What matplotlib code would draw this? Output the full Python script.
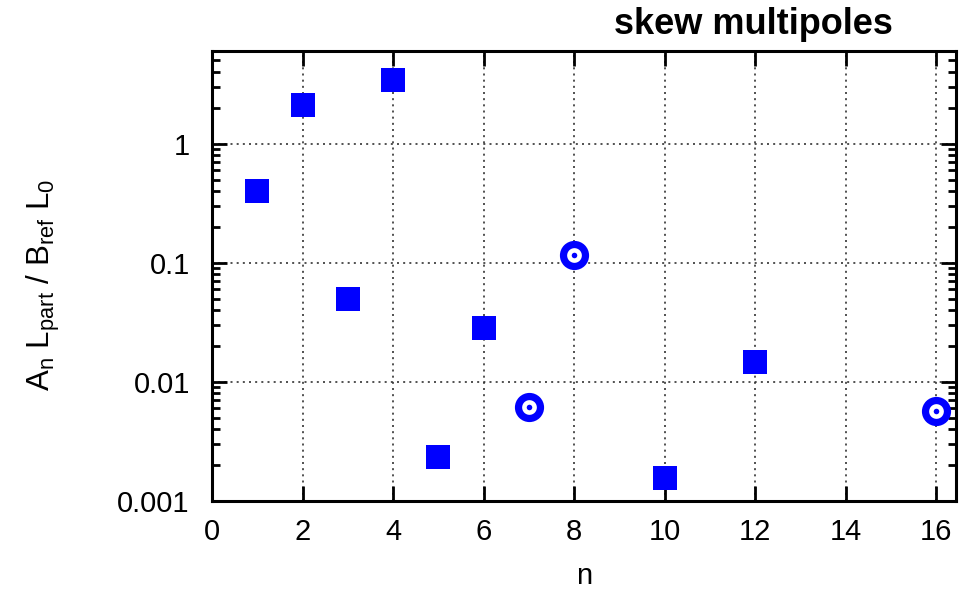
import matplotlib
matplotlib.use("Agg")
import matplotlib.pyplot as plt
from matplotlib.ticker import LogLocator, FixedLocator, NullFormatter

plt.rcParams['font.family'] = ['Liberation Sans', 'DejaVu Sans']
plt.rcParams['mathtext.fontset'] = 'custom'
plt.rcParams['mathtext.rm'] = 'Liberation Sans'
plt.rcParams['mathtext.it'] = 'Liberation Sans'

# skew multipole components, measured (squares) and upper limits (circles)
n_meas = [1, 2, 3, 4, 5, 6, 10, 12]
a_meas = [0.40, 2.12, 0.050, 3.43, 0.00236, 0.0283, 0.00157, 0.0147]
n_lim = [7, 8, 16]
a_lim = [0.0062, 0.116, 0.0057]

blue = "#0000ff"

fig = plt.figure(figsize=(9.77, 5.96), dpi=100)
ax = fig.add_axes([212 / 977, 1 - 501 / 596, (956 - 212) / 977, (501 - 51) / 596])

ax.set_yscale("log")
ax.set_xlim(0, 16.44)
ax.set_ylim(0.001, 6)

ax.plot(n_meas, a_meas, linestyle="none", marker="s", markersize=17.3,
        color=blue, markeredgewidth=0, zorder=3)
ax.plot(n_lim, a_lim, linestyle="none", marker="o", markersize=15.8,
        markerfacecolor="white", markeredgecolor=blue, markeredgewidth=5.2, zorder=3)
ax.plot(n_lim, a_lim, linestyle="none", marker="o", markersize=4,
        color=blue, markeredgewidth=0, zorder=4)

ax.xaxis.set_major_locator(FixedLocator(range(0, 17, 2)))
ax.yaxis.set_major_locator(FixedLocator([0.001, 0.01, 0.1, 1]))
ax.yaxis.set_minor_locator(LogLocator(base=10, subs=range(2, 10), numticks=20))
ax.yaxis.set_minor_formatter(NullFormatter())
ax.set_yticklabels(["0.001", "0.01", "0.1", "1"])

ax.grid(True, which="major", linestyle=(0, (1.2, 2.5)), color="#333333", linewidth=1.2)
ax.tick_params(which="major", direction="in", length=11, width=2, top=True, right=True,
               labelsize=21)
ax.tick_params(axis="x", which="major", pad=12)
ax.tick_params(axis="y", which="major", pad=16)
ax.tick_params(which="minor", direction="in", length=5.5, width=2, top=True, right=True)
ax.tick_params(axis="x", which="minor", top=False, bottom=False)
for s in ax.spines.values():
    s.set_linewidth(2.2)

ax.set_xlabel("n", fontsize=21, labelpad=12)
ax.set_ylabel(r"A$_\mathrm{n}$ L$_\mathrm{part}$ / B$_\mathrm{ref}$ L$_\mathrm{0}$",
              fontsize=22.5)
ax.yaxis.set_label_coords((62 - 212) / 744, (501 - 285) / 450)
fig.text(893 / 977, 1 - 34 / 596, "skew multipoles", fontsize=26, fontweight="bold",
         ha="right", va="baseline")

fig.savefig("out.png", dpi=100)
